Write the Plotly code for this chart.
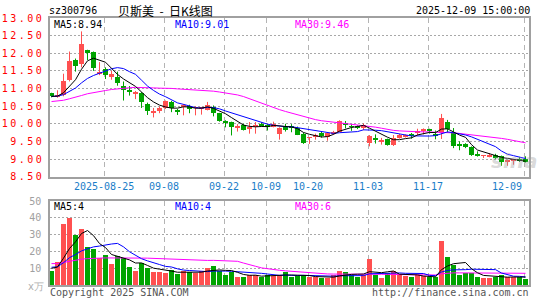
import plotly.graph_objects as go
import pandas as pd

# ---------------- data ----------------
dates = [
    "2025-08-12", "2025-08-13", "2025-08-14", "2025-08-15",
    "2025-08-18", "2025-08-19", "2025-08-20", "2025-08-21", "2025-08-22",
    "2025-08-25", "2025-08-26", "2025-08-27", "2025-08-28", "2025-08-29",
    "2025-09-01", "2025-09-02", "2025-09-03", "2025-09-04", "2025-09-05",
    "2025-09-08", "2025-09-09", "2025-09-10", "2025-09-11", "2025-09-12",
    "2025-09-15", "2025-09-16", "2025-09-17", "2025-09-18", "2025-09-19",
    "2025-09-22", "2025-09-23", "2025-09-24", "2025-09-25", "2025-09-26",
    "2025-09-29", "2025-09-30", "2025-10-09", "2025-10-10",
    "2025-10-13", "2025-10-14", "2025-10-15", "2025-10-16", "2025-10-17",
    "2025-10-20", "2025-10-21", "2025-10-22", "2025-10-23", "2025-10-24",
    "2025-10-27", "2025-10-28", "2025-10-29", "2025-10-30", "2025-10-31",
    "2025-11-03", "2025-11-04", "2025-11-05", "2025-11-06", "2025-11-07",
    "2025-11-10", "2025-11-11", "2025-11-12", "2025-11-13", "2025-11-14",
    "2025-11-17", "2025-11-18", "2025-11-19", "2025-11-20", "2025-11-21",
    "2025-11-24", "2025-11-25", "2025-11-26", "2025-11-27", "2025-11-28",
    "2025-12-01", "2025-12-02", "2025-12-03", "2025-12-04", "2025-12-05",
    "2025-12-08", "2025-12-09",
]

open_ = [10.86, 10.78, 10.82, 11.25, 11.81, 11.69, 12.09, 12.03, 11.43, 11.55,
         11.34, 11.34, 11.06, 10.95, 10.87, 10.87, 10.57, 10.32, 10.37, 10.46,
         10.63, 10.40, 10.48, 10.51, 10.45, 10.44, 10.40, 10.48, 10.30, 10.08,
         10.04, 9.87, 9.97, 9.84, 9.91, 10.00, 9.97, 9.92, 9.71, 9.90,
         9.93, 9.87, 9.72, 9.60, 9.62, 9.73, 9.64, 9.71, 9.78, 10.00,
         9.93, 9.94, 9.87, 9.46, 9.60, 9.48, 9.56, 9.40, 9.60, 9.65,
         9.68, 9.74, 9.80, 9.83, 9.71, 9.74, 10.05, 9.74, 9.40, 9.43,
         9.33, 9.13, 9.09, 9.08, 9.11, 9.08, 8.94, 8.95, 8.98, 9.00]
high = [10.88, 10.95, 11.42, 12.05, 11.85, 12.62, 12.10, 12.05, 11.75, 11.60,
        11.50, 11.48, 11.20, 11.07, 10.93, 10.90, 10.60, 10.45, 10.49, 10.66,
        10.65, 10.42, 10.56, 10.54, 10.50, 10.47, 10.62, 10.52, 10.31, 10.10,
        10.06, 9.99, 10.00, 10.05, 10.05, 10.04, 9.99, 10.06, 9.90, 10.00,
        9.99, 9.92, 9.75, 9.62, 9.72, 9.78, 9.76, 9.80, 10.10, 10.08,
        9.99, 9.96, 10.01, 9.68, 9.70, 9.60, 9.58, 9.68, 9.71, 9.70,
        9.74, 9.86, 9.87, 9.86, 9.81, 10.28, 10.11, 9.88, 9.50, 9.45,
        9.36, 9.22, 9.11, 9.16, 9.15, 9.10, 8.97, 8.98, 9.06, 9.08]
low = [10.75, 10.74, 10.78, 11.20, 11.48, 11.60, 11.81, 11.50, 11.38, 11.27,
       11.25, 11.08, 10.66, 10.80, 10.70, 10.45, 10.25, 10.18, 10.30, 10.42,
       10.33, 10.25, 10.24, 10.30, 10.24, 10.26, 10.38, 10.21, 10.06, 9.90,
       9.67, 9.78, 9.81, 9.72, 9.72, 9.92, 9.81, 9.90, 9.55, 9.78,
       9.76, 9.68, 9.43, 9.43, 9.55, 9.61, 9.52, 9.69, 9.77, 9.87,
       9.80, 9.85, 9.82, 9.36, 9.44, 9.41, 9.38, 9.37, 9.58, 9.61,
       9.58, 9.67, 9.70, 9.72, 9.56, 9.57, 9.74, 9.31, 9.25, 9.31,
       9.09, 9.07, 9.03, 9.05, 9.00, 8.81, 8.81, 8.84, 8.92, 8.90]
close = [10.78, 10.82, 11.22, 11.78, 11.65, 12.26, 12.02, 11.59, 11.47, 11.39,
         11.40, 11.15, 10.95, 10.89, 10.91, 10.61, 10.35, 10.34, 10.44, 10.65,
         10.44, 10.35, 10.53, 10.42, 10.47, 10.45, 10.54, 10.30, 10.09, 10.05,
         9.90, 9.95, 9.83, 9.91, 9.98, 9.95, 9.93, 10.00, 9.87, 9.85,
         9.90, 9.69, 9.46, 9.61, 9.69, 9.68, 9.74, 9.78, 10.07, 9.98,
         9.91, 9.87, 9.96, 9.66, 9.53, 9.55, 9.40, 9.60, 9.67, 9.68,
         9.66, 9.81, 9.82, 9.81, 9.65, 10.16, 9.85, 9.36, 9.38, 9.33,
         9.12, 9.09, 9.10, 9.11, 9.02, 8.91, 8.95, 8.96, 8.95, 8.93]
volume = [8.6, 13.9, 36.3, 39.8, 29.8, 33.4, 22.8, 21.2, 16.1, 17.9,
          12.8, 17.5, 15.9, 10.6, 8.6, 13.1, 10.0, 7.9, 7.5, 6.9,
          9.2, 6.5, 8.5, 8.0, 7.1, 8.1, 10.0, 11.2, 8.5, 5.7,
          7.7, 4.7, 4.7, 6.1, 6.1, 4.7, 6.1, 5.3, 6.1, 7.5,
          4.7, 5.3, 5.7, 4.9, 4.5, 4.1, 4.1, 5.7, 8.6, 7.5,
          5.7, 4.7, 6.1, 15.7, 6.1, 4.1, 7.3, 8.5, 6.1, 5.3,
          4.5, 5.7, 5.1, 4.5, 4.5, 25.9, 16.5, 12.0, 5.7, 6.9,
          7.3, 4.5, 4.1, 4.1, 4.5, 5.7, 4.9, 4.7, 4.9, 3.3]

# sessions before the visible window (estimated from where the MA lines start)
prior_close = [10.45, 10.50, 10.48, 10.55, 10.60, 10.52, 10.50, 10.58, 10.62, 10.55,
               10.50, 10.48, 10.52, 10.60, 10.58, 10.55, 10.62, 10.65, 10.60, 10.70,
               10.75, 10.80, 10.78, 10.76, 10.80, 10.77, 10.75, 10.80, 10.78]
prior_vol = [16, 14, 18, 12, 15, 13, 11, 17, 14, 12,
             15, 13, 16, 12, 14, 11, 13, 15, 12, 14,
             11, 12, 10, 11, 12, 10, 10, 11, 10]

tick_dates = ["2025-08-25", "2025-09-08", "2025-09-22", "2025-10-09",
              "2025-10-20", "2025-11-03", "2025-11-17", "2025-12-09"]
tick_labels = ["2025-08-25", "09-08", "09-22", "10-09", "10-20", "11-03", "11-17", "12-09"]
price_ticks = [8.5, 9.0, 9.5, 10.0, 10.5, 11.0, 11.5, 12.0, 12.5, 13.0]
vol_ticks = [10, 20, 30, 40, 50]

code = "sz300796"
name = "贝斯美"
stamp = "2025-12-09 15:00:00"

# ---------------- derived ----------------
n = len(dates)
idx = list(range(n))
cs = pd.Series(prior_close + close)
vs = pd.Series(prior_vol + volume)
p = len(prior_close)
ma = {k: cs.rolling(k).mean().iloc[p:].tolist() for k in (5, 10, 30)}
vma = {k: vs.rolling(k).mean().iloc[p:].tolist() for k in (5, 10, 30)}

RED = "#ff5050"
GREEN = "#00a400"
MA_COL = {5: "#000000", 10: "#0000ff", 30: "#ff00ff"}
MONO = "DejaVu Sans Mono"

up = [c >= o for o, c in zip(open_, close)]
colors = [RED if u else GREEN for u in up]

# ---------------- geometry ----------------
W, H = 545, 300
L, R, T, B = 50, 16, 18, 15
PW, PH = W - L - R, H - T - B


def px(xp):
    return (xp - L) / PW


def py(yp):
    return (H - B - yp) / PH


main_dom = [py(176.7), 1.0]
vol_dom = [0.0, py(201.0)]
xr = [-0.25, 79.58]

fig = go.Figure()

# wicks
for flag, col in ((True, RED), (False, GREEN)):
    wx, wy = [], []
    for i in idx:
        if up[i] == flag:
            wx += [i, i, None]
            wy += [low[i], high[i], None]
    fig.add_trace(go.Scatter(x=wx, y=wy, mode="lines", line=dict(color=col, width=1),
                             hoverinfo="skip", xaxis="x", yaxis="y"))

# bodies
fig.add_trace(go.Bar(
    x=idx,
    y=[max(abs(c - o), 0.025) for o, c in zip(open_, close)],
    base=[min(o, c) for o, c in zip(open_, close)],
    width=0.8, marker=dict(color=colors, line=dict(width=0)),
    hoverinfo="skip", xaxis="x", yaxis="y"))

for k in (30, 10, 5):
    fig.add_trace(go.Scatter(x=idx, y=ma[k], mode="lines",
                             line=dict(color=MA_COL[k], width=1),
                             hoverinfo="skip", xaxis="x", yaxis="y"))

# volume
fig.add_trace(go.Bar(x=idx, y=volume, width=0.84,
                     marker=dict(color=colors, line=dict(width=0)),
                     hoverinfo="skip", xaxis="x2", yaxis="y2"))
for k in (30, 10, 5):
    fig.add_trace(go.Scatter(x=idx, y=vma[k], mode="lines",
                             line=dict(color=MA_COL[k], width=1),
                             hoverinfo="skip", xaxis="x2", yaxis="y2"))

grid_x = [dates.index(d) - 0.2 for d in tick_dates]

xcommon = dict(range=xr, tickvals=grid_x, showticklabels=False, ticks="", automargin=False,
               showgrid=True, gridcolor="#b4b4b4", griddash="5px,4px", gridwidth=1,
               zeroline=False, showline=True, mirror=True, linecolor="#a0a0a0", linewidth=1.5)

price_text = ['<span style="letter-spacing:2.5px">%.2f</span>' % v for v in price_ticks]

fig.update_layout(
    width=W, height=H,
    margin=dict(l=L, r=R, t=T, b=B, pad=0, autoexpand=False),
    paper_bgcolor="white", plot_bgcolor="white",
    showlegend=False, bargap=0,
    xaxis=dict(domain=[0, 1], anchor="y", **xcommon),
    xaxis2=dict(domain=[0, 1], anchor="y2", matches="x", **xcommon),
    yaxis=dict(domain=main_dom, range=[8.5, 13.0], tickvals=price_ticks, ticktext=price_text,
               tickfont=dict(family=MONO, size=10, color="#ff0000"), ticks="",
               ticklabelstandoff=2, automargin=False,
               showgrid=True, gridcolor="#a8a8a8", griddash="2px,2px", gridwidth=1,
               zeroline=False, showline=True, mirror=True, linecolor="#a0a0a0", linewidth=1.5),
    yaxis2=dict(domain=vol_dom, range=[0, 50], tickvals=vol_ticks,
                ticktext=[str(v) for v in vol_ticks],
                tickfont=dict(family=MONO, size=10, color="#a0a0a0"), ticks="",
                ticklabelstandoff=5, automargin=False,
                showgrid=True, gridcolor="#a8a8a8", griddash="2px,2px", gridwidth=1,
                zeroline=False, showline=True, mirror=True, linecolor="#a0a0a0", linewidth=1.5),
)

ann = []


def text(x, y, s, color="#000000", size=10, family=MONO, xanchor="left", **kw):
    ann.append(dict(x=px(x), y=py(y), xref="paper", yref="paper", text=s, showarrow=False,
                    xanchor=xanchor, yanchor="middle", borderpad=0, borderwidth=0,
                    font=dict(family=family, size=size, color=color), **kw))


# header
text(49, 11, code)
text(118, 10.5, name + "\u00a0\u00a0-\u00a0\u00a0日K线图", size=12, family="Noto Sans CJK SC")
text(530, 11, stamp, xanchor="right")

# MA legends
text(54, 24.5, "MA5:%.2f" % ma[5][-1], MA_COL[5])
text(175, 24.5, "MA10:%.2f" % ma[10][-1], MA_COL[10])
text(295, 24.5, "MA30:%.2f" % ma[30][-1], MA_COL[30])
text(54, 206.5, "MA5:%d" % int(vma[5][-1]), MA_COL[5])
text(175, 206.5, "MA10:%d" % int(vma[10][-1]), MA_COL[10])
text(295, 206.5, "MA30:%d" % int(vma[30][-1]), MA_COL[30])

# date labels
for d, lab in zip(tick_dates, tick_labels):
    gx = dates.index(d) - 0.2
    if d == tick_dates[-1]:
        ann.append(dict(x=px(522), y=py(186), xref="paper", yref="paper", text=lab,
                        showarrow=False, xanchor="right", yanchor="middle", borderpad=0,
                        borderwidth=0, font=dict(family=MONO, size=10, color="#1a7dc8")))
    else:
        ann.append(dict(x=gx, y=py(186), xref="x", yref="paper", text=lab,
                        showarrow=False, xanchor="center", yanchor="middle", borderpad=0,
                        borderwidth=0, font=dict(family=MONO, size=10, color="#1a7dc8")))

# footer
text(50, 292.5, "Copyright 2025 SINA.COM", "#555555")
text(529, 292.5, "http://finance.sina.com.cn", "#555555", xanchor="right")
text(44, 286, "x万", "#b0b0b0", size=10, family="DejaVu Sans", xanchor="right")

# watermark
ann.append(dict(x=px(514), y=py(161), xref="paper", yref="paper", text="<b><i>sina</i></b>",
                showarrow=False, xanchor="center", yanchor="middle", borderpad=0, borderwidth=0,
                font=dict(family="DejaVu Sans", size=20, color="rgba(160,160,160,0.4)")))

fig.update_layout(annotations=ann)

fig.write_html("out.html", config={"displayModeBar": False})
